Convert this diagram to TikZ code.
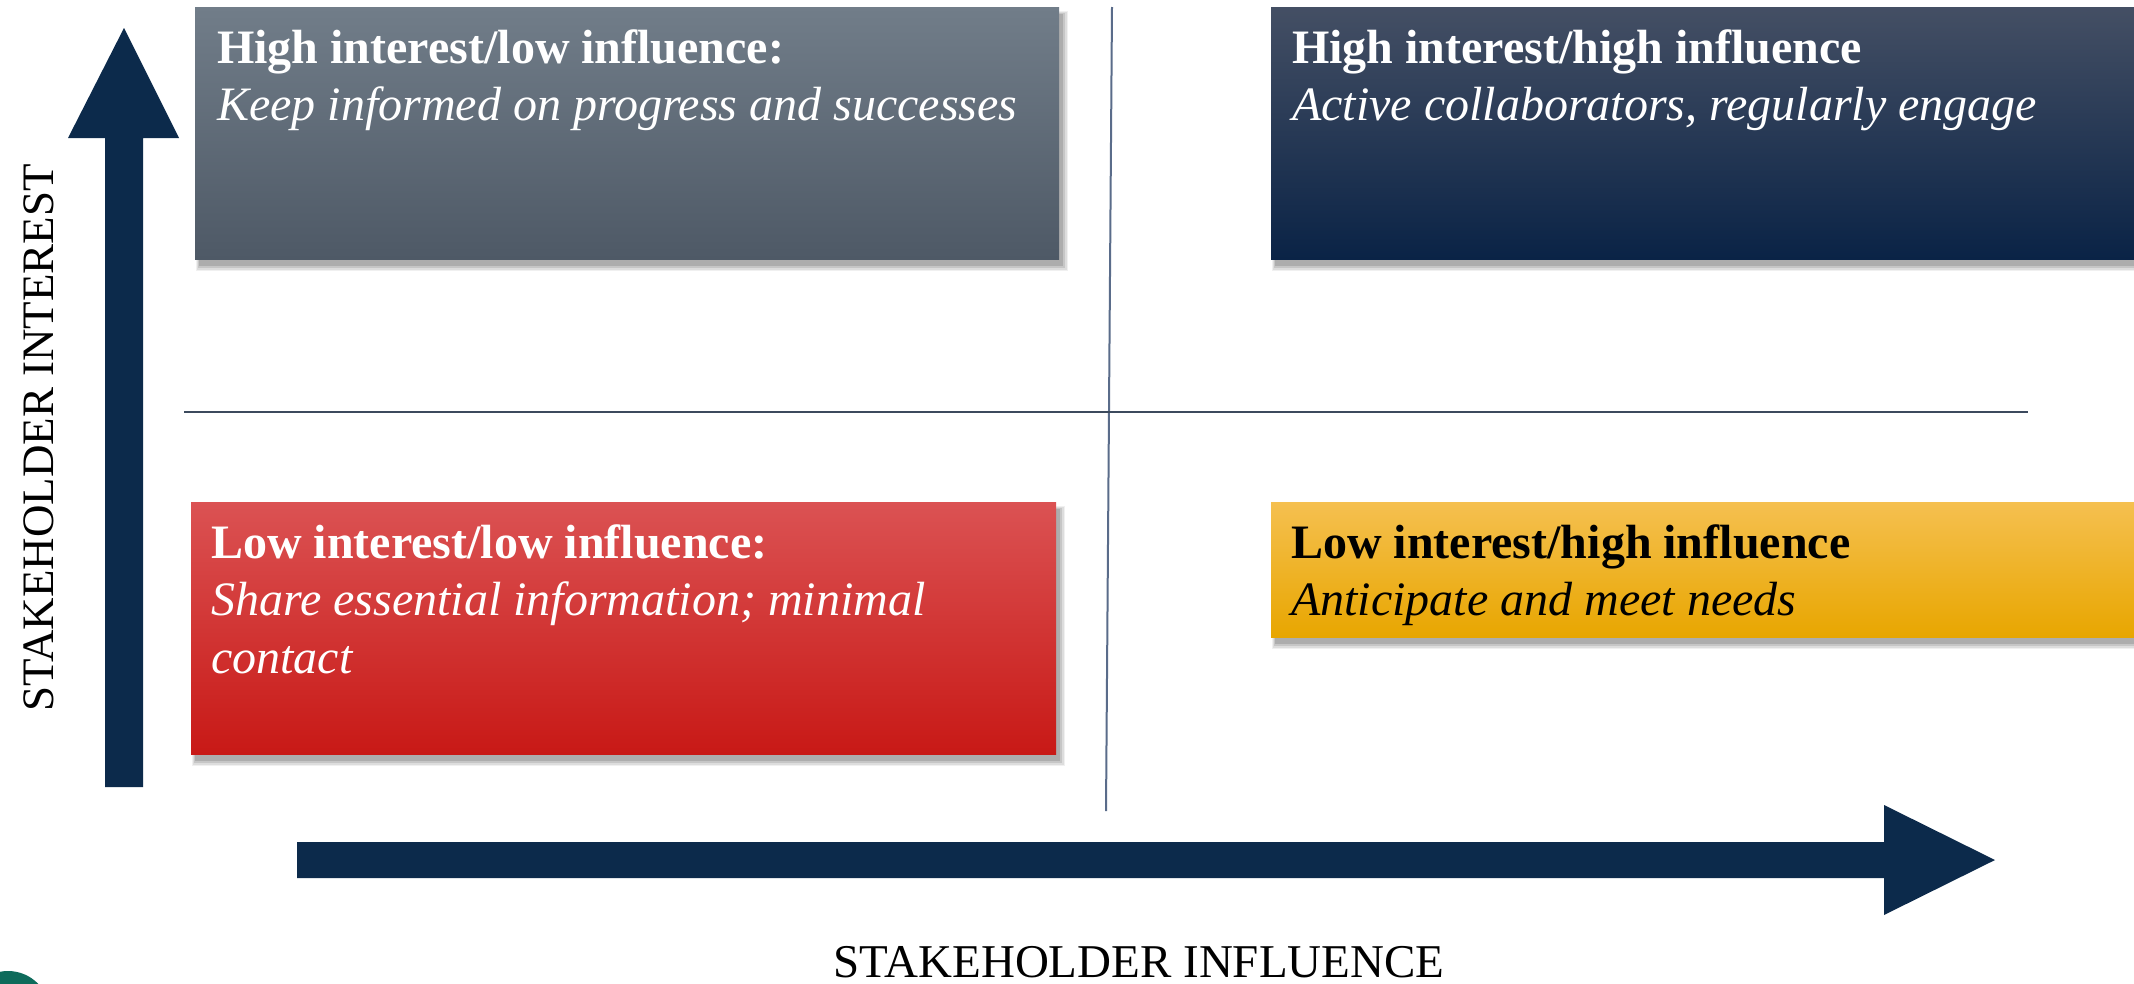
\documentclass[tikz,border=0pt]{standalone}
\usepackage{fontspec}
\setmainfont{Liberation Serif}
\usetikzlibrary{calc}

\definecolor{arrowNavy}{HTML}{0C2A4B}
\definecolor{grayTop}{HTML}{717D89}
\definecolor{grayBot}{HTML}{4E5966}
\definecolor{navyTop}{HTML}{444F64}
\definecolor{navyMid}{HTML}{0C264A}
\definecolor{navyBot}{HTML}{0A2346}
\definecolor{redTop}{HTML}{DB5253}
\definecolor{redMid}{HTML}{D3221F}
\definecolor{redBot}{HTML}{C81916}
\definecolor{yelTop}{HTML}{F5C050}
\definecolor{yelMid}{HTML}{F8B914}
\definecolor{yelBot}{HTML}{E8A600}
\definecolor{dividerV}{HTML}{5A6C8A}
\definecolor{dividerH}{HTML}{3C4A5D}
\definecolor{logoTeal}{HTML}{0E6B5B}

\tikzset{
  quad/.style={rectangle, inner sep=0pt, draw=none},
  title/.style={anchor=base west, inner sep=0pt, font=\fontsize{48}{57}\selectfont\bfseries},
  subtitle/.style={anchor=base west, inner sep=0pt, font=\fontsize{48}{57}\selectfont\itshape},
  axislabel/.style={inner sep=0pt, text=black},
  blockarrow/.style={fill=arrowNavy, draw=none},
}

% soft drop shadow under a box given by two corners
\newcommand{\boxshadow}[2]{%
  \foreach \g/\o in {9/0.06,6/0.08,3/0.10,0/0.12}{%
    \fill[black, opacity=\o] ($(#1)+(4-\g*0.3,7-\g*0.3)$) rectangle ($(#2)+(4+\g*0.6,7+\g*0.6)$);
  }%
}

\begin{document}
\begin{tikzpicture}[x=1pt, y=-1pt]
  \useasboundingbox (0,0) rectangle (2134,983);
  \clip (0,0) rectangle (2134,983);
  \fill[white] (0,0) rectangle (2134,983);

  % quadrant corners
  \coordinate (g1) at (195,7);   \coordinate (g2) at (1059,259);
  \coordinate (n1) at (1271,7);  \coordinate (n2) at (2150,259);
  \coordinate (r1) at (191,502); \coordinate (r2) at (1056,754);
  \coordinate (y1) at (1271,502);\coordinate (y2) at (2150,637);

  % shadows
  \boxshadow{g1}{g2}
  \boxshadow{n1}{n2}
  \boxshadow{r1}{r2}
  \boxshadow{y1}{y2}

  % quadrant boxes
  \shade[top color=grayTop, bottom color=grayBot] (g1) rectangle (g2);
  \shade[top color=navyTop, middle color=navyMid, bottom color=navyBot] (n1) rectangle (n2);
  \shade[top color=redTop, middle color=redMid, bottom color=redBot] (r1) rectangle (r2);
  \shade[top color=yelTop, middle color=yelMid, bottom color=yelBot] (y1) rectangle (y2);

  % quadrant texts
  \node[title, text=white]    (gt) at (217,63)  {High interest/low influence:};
  \node[subtitle, text=white] (gs) at (217,120) {Keep informed on progress and successes};

  \node[title, text=white]    (nt) at (1292,63)  {High interest/high influence};
  \node[subtitle, text=white] (ns) at (1292,120) {Active collaborators, regularly engage};

  \node[title, text=white]    (rt) at (211,558) {Low interest/low influence:};
  \node[subtitle, text=white] (rs) at (211,615) {Share essential information; minimal};
  \node[subtitle, text=white] (rs2) at (211,673) {contact};

  \node[title, text=black]    (yt) at (1291,558) {Low interest/high influence};
  \node[subtitle, text=black] (ys) at (1291,615) {Anticipate and meet needs};

  % dividing lines
  \coordinate (vtop) at (1112,7);   \coordinate (vbot) at (1106,811);
  \coordinate (hleft) at (184,412); \coordinate (hright) at (2028,412);
  \draw[dividerV, line width=2pt] (vtop) -- (vbot);
  \draw[dividerH, line width=2.2pt] (hleft) -- (hright);

  % axis arrows
  \fill[blockarrow] (105,787) -- (105,138) -- (68,138) -- (124,28) -- (179,138) -- (143,138) -- (143,787) -- cycle;
  \fill[blockarrow] (297,842) -- (1884,842) -- (1884,805) -- (1995,860) -- (1884,915) -- (1884,878) -- (297,878) -- cycle;

  % axis labels
  \node[axislabel, rotate=90, font=\fontsize{45}{54}\selectfont] (ylab) at (39,438) {STAKEHOLDER INTEREST};
  \node[axislabel, anchor=base, font=\fontsize{47}{56}\selectfont] (xlab) at (1139,977) {STAKEHOLDER INFLUENCE};

  % corner logo fragment
  \fill[logoTeal] (8,1013) circle (42);
\end{tikzpicture}
\end{document}
